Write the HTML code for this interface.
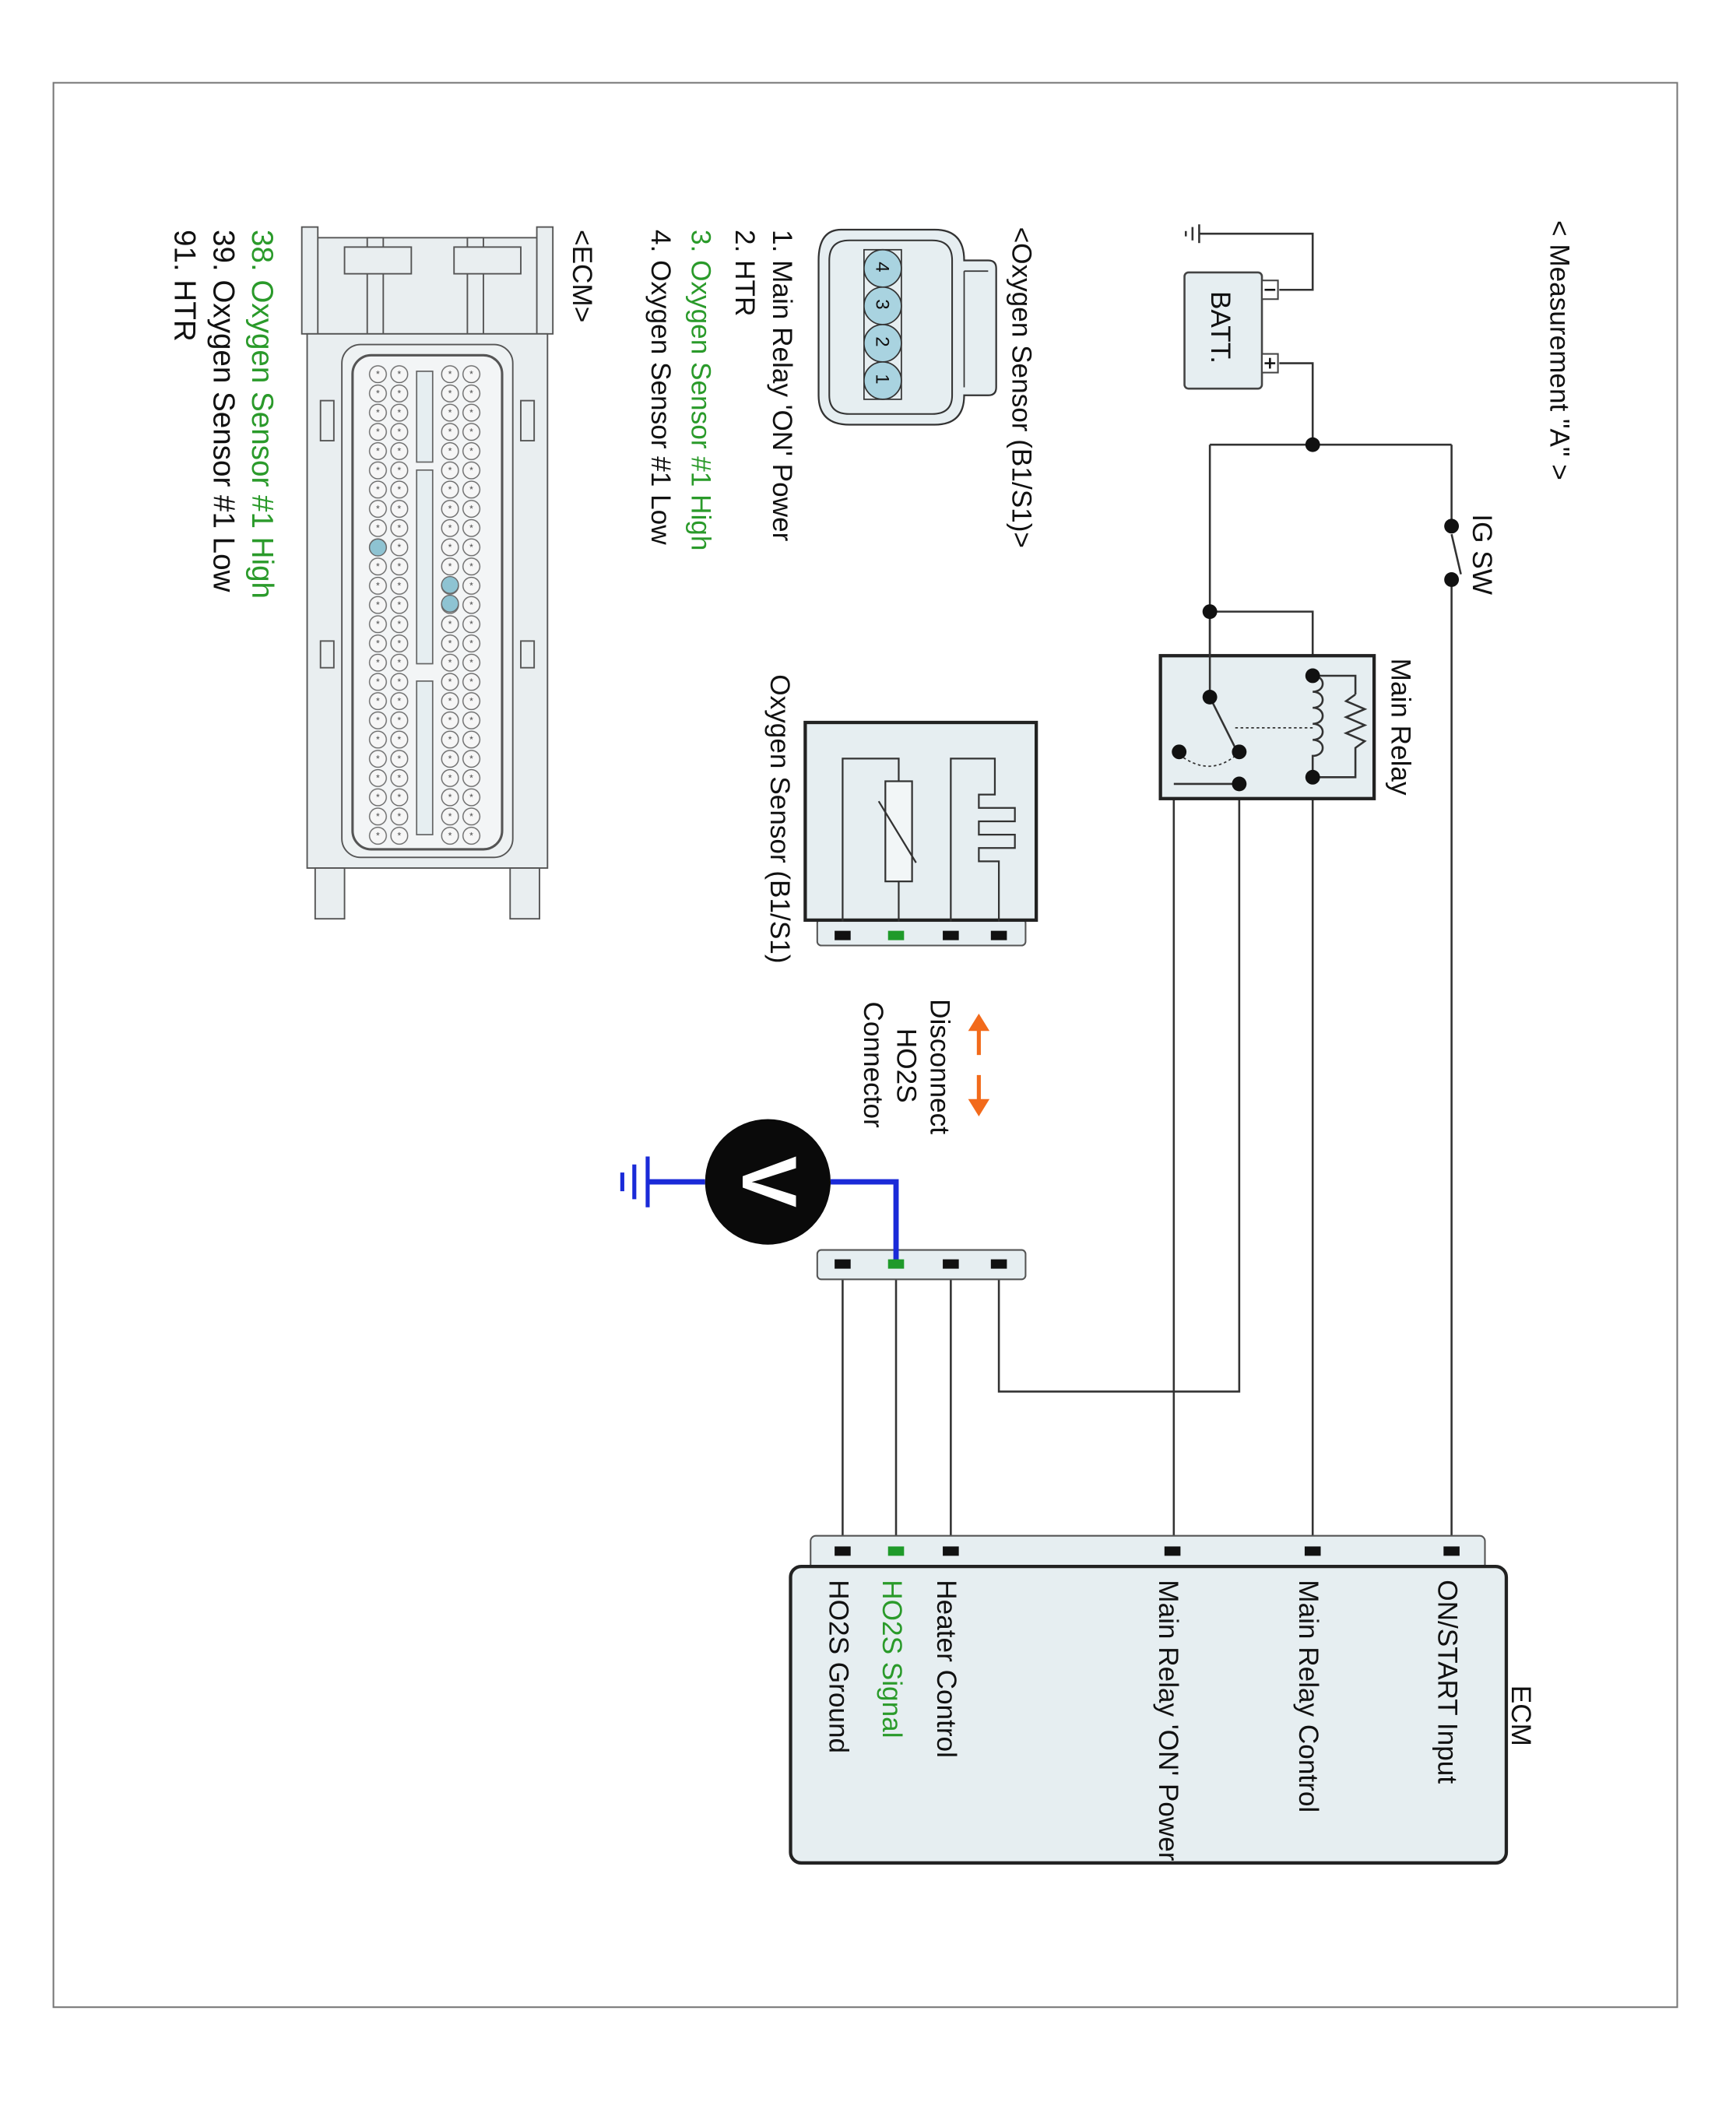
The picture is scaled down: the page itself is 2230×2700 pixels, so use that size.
<!DOCTYPE html>
<html><head><meta charset="utf-8"><style>
html,body{margin:0;padding:0;background:#fff;}
svg{display:block;}
text{font-family:"Liberation Sans",Arial,sans-serif;}
</style></head><body>
<svg width="2230" height="2700" viewBox="0 0 1300 1574" xmlns="http://www.w3.org/2000/svg">
<defs>
<pattern id="pins1" x="275" y="273" width="16" height="14.4" patternUnits="userSpaceOnUse">
<circle cx="8" cy="7.2" r="6.3" fill="#f6f6f6" stroke="#666" stroke-width="0.8"/>
<text x="8" y="9.5" font-size="7" text-anchor="middle" fill="#444">*</text>
</pattern>
<pattern id="pins2" x="329" y="273" width="16" height="14.4" patternUnits="userSpaceOnUse">
<circle cx="8" cy="7.2" r="6.3" fill="#f6f6f6" stroke="#666" stroke-width="0.8"/>
<text x="8" y="9.5" font-size="7" text-anchor="middle" fill="#444">*</text>
</pattern>
</defs>
<rect x="0" y="0" width="1300" height="1574" fill="#fff"/>
<rect x="40" y="62" width="1216" height="1441" fill="none" stroke="#777" stroke-width="1.2"/>

<!-- wires -->
<g fill="none" stroke="#333" stroke-width="1.5">
<polyline points="958,217 983,217 983,175 898,175"/>
<line x1="898" y1="168" x2="898" y2="182"/><line x1="893" y1="170" x2="893" y2="180"/><line x1="888" y1="173" x2="888" y2="177"/>
<polyline points="958,272 983,272 983,333"/>
<line x1="906" y1="333" x2="1087" y2="333"/>
<line x1="1087" y1="333" x2="1087" y2="394"/>
<line x1="1087" y1="400" x2="1094" y2="430"/>
<line x1="1087" y1="434" x2="1087" y2="1160"/>
<line x1="906" y1="333" x2="906" y2="522"/>
<polyline points="906,458 983,458 983,506"/>
<line x1="983" y1="582" x2="983" y2="1160"/>
<polyline points="928,563 928,1042 748,1042 748,948"/>
<polyline points="928,587 879,587 879,1160"/>
<line x1="712" y1="948" x2="712" y2="1160"/>
<line x1="631" y1="948" x2="631" y2="1160"/>
<line x1="671" y1="948" x2="671" y2="1160"/>
</g>

<!-- battery -->
<rect x="887" y="204" width="58" height="87" rx="3" fill="#e6eef1" stroke="#444" stroke-width="1.5"/>
<rect x="945" y="210" width="12" height="14" fill="#fff" stroke="#444" stroke-width="1.2"/>
<rect x="945" y="265" width="12" height="14" fill="#fff" stroke="#444" stroke-width="1.2"/>
<line x1="947" y1="217" x2="955" y2="217" stroke="#111" stroke-width="1.5"/>
<line x1="947" y1="272" x2="955" y2="272" stroke="#111" stroke-width="1.5"/>
<line x1="951" y1="268" x2="951" y2="276" stroke="#111" stroke-width="1.5"/>

<!-- relay -->
<rect x="869" y="491" width="160" height="107" fill="#e6eef1" stroke="#222" stroke-width="2.5"/>
<g fill="none" stroke="#333" stroke-width="1.5">
<polyline points="906,458 906,522"/>
<polyline points="928,587 879,587"/>
<polyline points="983,506 1015,506 1015,520"/>
<polyline points="1015,520 1008,525 1022,531 1008,537 1022,543 1008,549 1022,555 1015,560 1015,582 983,582"/>
<path d="M983,506 c10,0 10,12 0,12 c10,0 10,12 0,12 c10,0 10,12 0,12 c10,0 10,12 0,12 c10,0 10,12 0,12 l0,16"/>
<line x1="906" y1="522" x2="925" y2="560"/>
<line x1="925" y1="545" x2="983" y2="545" stroke-dasharray="2,2" stroke-width="1"/>
<path d="M883,565 Q905,582 925,566" stroke-dasharray="2,2" stroke-width="1"/>
</g>
<g fill="#111">
<circle cx="983" cy="333" r="5.5"/><circle cx="1087" cy="394" r="5.5"/><circle cx="1087" cy="434" r="5.5"/>
<circle cx="906" cy="458" r="5.5"/><circle cx="906" cy="522" r="5.5"/><circle cx="983" cy="506" r="5.5"/>
<circle cx="983" cy="582" r="5.5"/><circle cx="883" cy="563" r="5.5"/><circle cx="928" cy="563" r="5.5"/><circle cx="928" cy="587" r="5.5"/>
</g>

<!-- oxygen sensor -->
<rect x="612" y="688" width="156" height="20" rx="3" fill="#e6eef1" stroke="#555" stroke-width="1.2"/>
<rect x="603" y="541" width="173" height="148" fill="#e6eef1" stroke="#222" stroke-width="2.5"/>
<g fill="none" stroke="#333" stroke-width="1.3">
<polyline points="631,690 631,568 673,568 673,585"/>
<rect x="663" y="585" width="20" height="75" fill="#f2f6f7"/>
<line x1="673" y1="660" x2="673" y2="690"/>
<line x1="658" y1="600" x2="686" y2="646"/>
<polyline points="712,690 712,568 745,568 745,595 733,595 733,605 760,605 760,615 733,615 733,625 760,625 760,635 733,635 733,645 748,645 748,690"/>
</g>
<g>
<rect x="625" y="697" width="12" height="7" fill="#111"/><rect x="665" y="697" width="12" height="7" fill="#1f9a2a"/>
<rect x="706" y="697" width="12" height="7" fill="#111"/><rect x="742" y="697" width="12" height="7" fill="#111"/>
</g>

<!-- orange arrows -->
<g fill="#f26a1b" stroke="#f26a1b" stroke-width="3">
<line x1="733" y1="768" x2="733" y2="790"/><polygon points="725,772 741,772 733,759" stroke="none"/>
<line x1="733" y1="805" x2="733" y2="827"/><polygon points="725,823 741,823 733,836" stroke="none"/>
</g>

<!-- connector 2 -->
<rect x="612" y="936" width="156" height="22" rx="3" fill="#e6eef1" stroke="#555" stroke-width="1.2"/>
<rect x="625" y="943" width="12" height="7" fill="#111"/><rect x="706" y="943" width="12" height="7" fill="#111"/><rect x="742" y="943" width="12" height="7" fill="#111"/>
<polyline points="622,885 671,885 671,946" fill="none" stroke="#1a2ad8" stroke-width="4"/>
<polyline points="528,885 485,885" fill="none" stroke="#1a2ad8" stroke-width="4"/>
<line x1="485" y1="866" x2="485" y2="904" stroke="#1a2ad8" stroke-width="3"/>
<line x1="475" y1="872" x2="475" y2="898" stroke="#1a2ad8" stroke-width="3"/>
<line x1="466" y1="878" x2="466" y2="892" stroke="#1a2ad8" stroke-width="3"/>
<rect x="665" y="943" width="12" height="7" fill="#1f9a2a"/>
<circle cx="575" cy="885" r="47" fill="#0a0a0a"/>
<text transform="translate(556,885) rotate(90)" font-size="58" font-weight="bold" fill="#fff" text-anchor="middle">V</text>

<!-- ECM box -->
<rect x="607" y="1150" width="505" height="26" rx="4" fill="#e6eef1" stroke="#555" stroke-width="1.2"/>
<rect x="592" y="1173" width="536" height="222" rx="8" fill="#e6eef1" stroke="#222" stroke-width="2.5"/>
<g fill="#111">
<rect x="625" y="1158" width="12" height="7"/><rect x="706" y="1158" width="12" height="7"/>
<rect x="872" y="1158" width="12" height="7"/><rect x="977" y="1158" width="12" height="7"/><rect x="1081" y="1158" width="12" height="7"/>
</g>
<rect x="665" y="1158" width="12" height="7" fill="#1f9a2a"/>

<!-- oxygen connector icon -->
<path d="M630,172 L700,172 Q722,172 722,195 L740,195 Q746,195 746,201 L746,290 Q746,296 740,296 L722,296 Q722,318 700,318 L636,318 Q613,318 613,296 L613,195 Q613,172 630,172 Z" fill="#e6eef1" stroke="#333" stroke-width="1.3"/>
<path d="M636,180 L698,180 Q713,180 713,195 L713,296 Q713,310 698,310 L636,310 Q621,310 621,296 L621,195 Q621,180 636,180 Z" fill="none" stroke="#333" stroke-width="1.2"/>
<line x1="722" y1="203" x2="740" y2="203" stroke="#333"/><line x1="722" y1="203" x2="722" y2="290" stroke="#333"/>
<rect x="647" y="187" width="28" height="112" fill="none" stroke="#333"/>
<g fill="#a9d3e0" stroke="#333" stroke-width="1">
<circle cx="661" cy="201" r="14"/><circle cx="661" cy="229" r="14"/><circle cx="661" cy="257" r="14"/><circle cx="661" cy="285" r="14"/>
</g>
<g font-size="14" fill="#111">
<text transform="translate(656,196) rotate(90)">4</text><text transform="translate(656,224) rotate(90)">3</text>
<text transform="translate(656,252) rotate(90)">2</text><text transform="translate(656,280) rotate(90)">1</text>
</g>

<!-- ECM connector drawing -->
<g stroke="#555" stroke-width="1.1" fill="#e9eef0">
<rect x="232" y="178" width="176" height="72"/>
<rect x="226" y="170" width="12" height="80"/><rect x="402" y="170" width="12" height="80"/>
<rect x="275" y="178" width="12" height="72"/><rect x="350" y="178" width="12" height="72"/>
<rect x="258" y="185" width="50" height="20"/><rect x="340" y="185" width="50" height="20"/>
<rect x="230" y="250" width="180" height="400"/>
<rect x="236" y="650" width="22" height="38"/><rect x="382" y="650" width="22" height="38"/>
<rect x="240" y="300" width="10" height="30"/><rect x="390" y="300" width="10" height="30"/>
<rect x="240" y="480" width="10" height="20"/><rect x="390" y="480" width="10" height="20"/>
<rect x="256" y="258" width="128" height="384" rx="14" fill="#eef2f3"/>
<rect x="264" y="266" width="112" height="370" rx="14" fill="#f3f5f6" stroke-width="1.8"/>
</g>
<rect x="275" y="273" width="32" height="360" fill="url(#pins1)"/>
<rect x="329" y="273" width="32" height="360" fill="url(#pins2)"/>
<g fill="#e6eef1" stroke="#666" stroke-width="1">
<rect x="312" y="278" width="12" height="68"/><rect x="312" y="352" width="12" height="145"/><rect x="312" y="510" width="12" height="115"/>
</g>
<g fill="#8ec3d2" stroke="#666" stroke-width="0.8">
<circle cx="283" cy="410" r="6.3"/><circle cx="337" cy="438" r="6.3"/><circle cx="337" cy="452" r="6.3"/>
</g>

<!-- text on top -->
<g fill="#111" font-size="20.5">
<text transform="translate(1161,165) rotate(90)">&lt; Measurement "A" &gt;</text>
<text transform="translate(1103,385) rotate(90)">IG SW</text>
<text transform="translate(1042,493) rotate(90)">Main Relay</text>
<text transform="translate(907,218) rotate(90)">BATT.</text>
<text transform="translate(1132,1262) rotate(90)">ECM</text>
<text transform="translate(1077,1183) rotate(90)">ON/START Input</text>
<text transform="translate(973,1183) rotate(90)">Main Relay Control</text>
<text transform="translate(868,1183) rotate(90)">Main Relay 'ON' Power</text>
<text transform="translate(702,1183) rotate(90)">Heater Control</text>
<text transform="translate(661,1183) rotate(90)" fill="#2a9a2a">HO2S  Signal</text>
<text transform="translate(621,1183) rotate(90)">HO2S  Ground</text>
<text transform="translate(577,505) rotate(90)">Oxygen Sensor (B1/S1)</text>
<text transform="translate(697,748) rotate(90)">Disconnect</text>
<text transform="translate(672,770) rotate(90)">HO2S</text>
<text transform="translate(647,750) rotate(90)">Connector</text>
<text transform="translate(758,170) rotate(90)">&lt;Oxygen Sensor (B1/S1)&gt;</text>
<text transform="translate(579,172) rotate(90)">1. Main Relay 'ON' Power</text>
<text transform="translate(551,172) rotate(90)">2. HTR</text>
<text transform="translate(518,172) rotate(90)" fill="#2a9a2a">3. Oxygen Sensor #1 High</text>
<text transform="translate(488,172) rotate(90)">4. Oxygen Sensor #1 Low</text>
<text transform="translate(429,172) rotate(90)">&lt;ECM&gt;</text>
</g>
<g font-size="22.5" fill="#111">
<text transform="translate(189,172) rotate(90)" fill="#2a9a2a">38. Oxygen Sensor #1 High</text>
<text transform="translate(160,172) rotate(90)">39. Oxygen Sensor #1 Low</text>
<text transform="translate(131,172) rotate(90)">91. HTR</text>
</g>
</svg>
</body></html>
